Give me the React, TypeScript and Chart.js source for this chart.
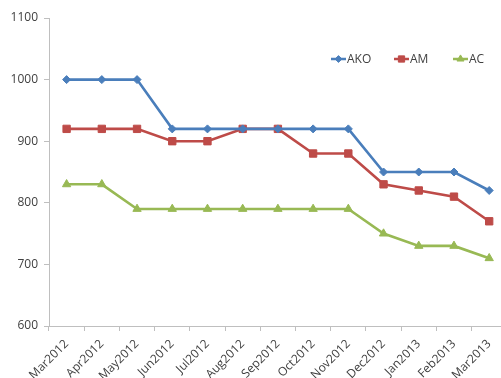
import React, { useEffect, useRef } from 'react';
import { Chart, registerables } from 'chart.js';
import { drawPoint } from 'chart.js/helpers';

Chart.register(...registerables);

const categories = [
  'Mar2012', 'Apr2012', 'May2012', 'Jun2012', 'Jul2012', 'Aug2012', 'Sep2012',
  'Oct2012', 'Nov2012', 'Dec2012', 'Jan2013', 'Feb2013', 'Mar2013',
];
const seriesNames = ['AKO', 'AM', 'AC'];
const akoValues = [1000, 1000, 1000, 920, 920, 920, 920, 920, 920, 850, 850, 850, 820];
const amValues = [920, 920, 920, 900, 900, 920, 920, 880, 880, 830, 820, 810, 770];
const acValues = [830, 830, 790, 790, 790, 790, 790, 790, 790, 750, 730, 730, 710];
const yMin = 600;
const yMax = 1100;
const yStep = 100;

const colors = ['#4A7EBB', '#BE4B48', '#98B954'];
const pointStyles = ['rectRot', 'rect', 'triangle'];
const pointRadii = [4, 5.2, 4.8];
const FONT = '"Open Sans", "Liberation Sans", sans-serif';

const legendPlugin = {
  id: 'insideLegend',
  afterDraw(chart: any) {
    const ctx = chart.ctx;
    const positions = [331, 394, 453];
    const y = 59;
    ctx.save();
    chart.data.datasets.forEach((ds: any, i: number) => {
      const x0 = positions[i];
      const lw = 15;
      ctx.strokeStyle = ds.borderColor;
      ctx.fillStyle = ds.backgroundColor;
      ctx.lineWidth = 2.5;
      ctx.beginPath();
      ctx.moveTo(x0, y);
      ctx.lineTo(x0 + lw, y);
      ctx.stroke();
      ctx.lineWidth = 1;
      drawPoint(ctx, { pointStyle: ds.pointStyle, radius: ds.pointRadius * 0.85, rotation: 0, borderWidth: 1 }, x0 + lw / 2, y);
      ctx.fillStyle = '#404040';
      ctx.font = `12px ${FONT}`;
      ctx.textAlign = 'left';
      ctx.textBaseline = 'middle';
      ctx.fillText(ds.label, x0 + lw + 1, y + 0.5);
    });
    ctx.restore();
  },
};

export default function App() {
  const canvasRef = useRef<HTMLCanvasElement | null>(null);

  useEffect(() => {
    if (!canvasRef.current) return;
    const valueSets = [akoValues, amValues, acValues];
    const chart = new Chart(canvasRef.current, {
      type: 'line',
      data: {
        labels: categories,
        datasets: seriesNames.map((name, i) => ({
          label: name,
          data: valueSets[i],
          borderColor: colors[i],
          backgroundColor: colors[i],
          borderWidth: 2.6,
          pointStyle: pointStyles[i] as any,
          pointRadius: pointRadii[i],
          pointBorderWidth: 1,
          pointBackgroundColor: colors[i],
          pointBorderColor: colors[i],
          tension: 0,
          fill: false,
        })),
      },
      options: {
        animation: false,
        responsive: false,
        maintainAspectRatio: false,
        layout: { padding: { top: 18, left: 0, right: 0, bottom: 0 } },
        plugins: {
          legend: { display: false },
          tooltip: { enabled: false },
        },
        scales: {
          x: {
            type: 'category',
            offset: true,
            grid: {
              offset: true,
              drawOnChartArea: false,
              drawTicks: true,
              tickLength: 5,
              color: '#bfbfbf',
            },
            border: { color: '#bfbfbf', width: 1 },
            ticks: {
              autoSkip: false,
              minRotation: 45,
              maxRotation: 45,
              padding: 6,
              color: '#404040',
              font: { family: FONT, size: 12 },
            },
            afterFit(scale: any) {
              scale.height = 52;
            },
          },
          y: {
            min: yMin,
            max: yMax,
            ticks: {
              stepSize: yStep,
              padding: 6,
              color: '#404040',
              font: { family: FONT, size: 12 },
              callback: (v: any) => String(v),
            },
            grid: {
              drawOnChartArea: false,
              drawTicks: true,
              tickLength: 5,
              color: '#bfbfbf',
            },
            border: { color: '#bfbfbf', width: 1 },
            afterFit(scale: any) {
              scale.width = 49;
            },
          },
        },
      },
      plugins: [legendPlugin],
    });
    return () => chart.destroy();
  }, []);

  return (
    <div style={{ position: 'absolute', left: 0, top: 0, width: 501, height: 378, overflow: 'hidden', background: '#fff' }}>
      <canvas ref={canvasRef} width={513} height={378} style={{ display: 'block' }} />
    </div>
  );
}
